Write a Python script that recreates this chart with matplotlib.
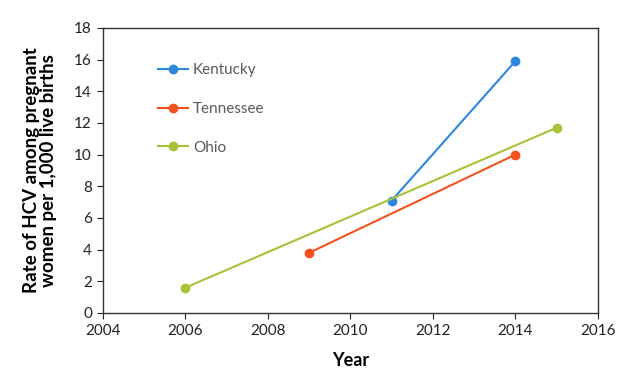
import matplotlib.pyplot as plt

years_ky = [2011, 2014]
rate_ky = [7.1, 15.9]
years_tn = [2009, 2014]
rate_tn = [3.8, 10.0]
years_oh = [2006, 2015]
rate_oh = [1.6, 11.7]

x_ticks = [2004, 2006, 2008, 2010, 2012, 2014, 2016]
y_ticks = [0, 2, 4, 6, 8, 10, 12, 14, 16, 18]

plt.rcParams['font.family'] = ['Lato', 'DejaVu Sans']

fig = plt.figure(figsize=(6.28, 3.73), dpi=100)
ax = fig.add_axes([0.164, 0.161, 0.788, 0.764])

ax.plot(years_ky, rate_ky, color='#2e86de', marker='o', markersize=6, lw=1.5, label='Kentucky')
ax.plot(years_tn, rate_tn, color='#f4511e', marker='o', markersize=6, lw=1.5, label='Tennessee')
ax.plot(years_oh, rate_oh, color='#a6c437', marker='o', markersize=6, lw=1.5, label='Ohio')

ax.set_xlim(2004, 2016)
ax.set_ylim(0, 18)
ax.set_xticks(x_ticks)
ax.set_yticks(y_ticks)
ax.tick_params(labelsize=11, colors='#222222', length=4, direction='out', pad=4)
for s in ax.spines.values():
    s.set_color('#333333')
    s.set_linewidth(1.0)

ax.set_xlabel('Year', fontsize=13, fontweight='bold', labelpad=10)
ax.set_ylabel('Rate of HCV among pregnant\nwomen per 1,000 live births', fontsize=13.5,
              fontweight='bold', labelpad=12, linespacing=1.05)

leg = ax.legend(loc='upper left', bbox_to_anchor=(0.083, 0.925), frameon=False,
                fontsize=11, labelspacing=1.62, handlelength=2.0, handletextpad=0.3)
for t in leg.get_texts():
    t.set_color('#595959')

fig.savefig('out.png', dpi=100)
